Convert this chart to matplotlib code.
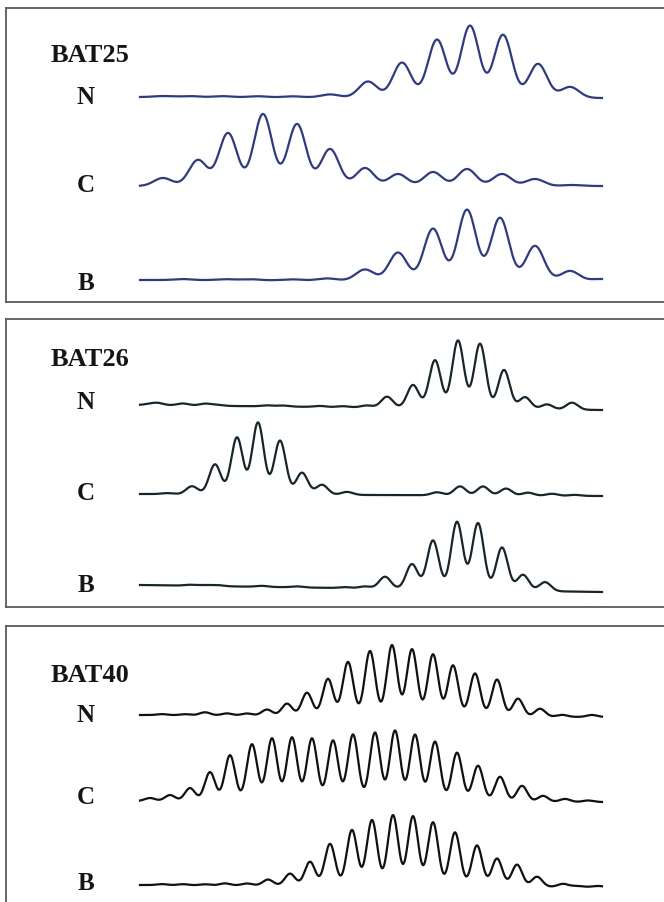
import numpy as np
import matplotlib
matplotlib.use("Agg")
import matplotlib.pyplot as plt

# peak positions / heights (position in trace units, height in signal units)
bat25_n_pos = [163, 190, 223, 258, 293, 330, 368, 402, 437, 470, 503, 538, 570]
bat25_n_h = [1, 1, 1, 1, 1, 3, 16, 35, 58, 72, 63, 34, 11]
bat25_c_pos = [163, 198, 228, 263, 297, 330, 365, 398, 433, 467, 502, 535, 572]
bat25_c_h = [8, 26, 53, 72, 62, 37, 18, 12, 14, 17, 12, 7, 1]
bat25_b_pos = [183, 225, 250, 292, 327, 365, 398, 433, 467, 500, 535, 570, 600]
bat25_b_h = [1, 1, 1, 1, 2, 11, 28, 52, 71, 63, 35, 10, 2]

bat26_n_pos = [150, 158, 183, 205, 217, 267, 283, 320, 343, 367, 387, 413, 435, 458, 480, 504, 525, 547, 572]
bat26_n_h = [1, 2, 2, 2, 1, 1, 1, 1, 1, 2, 11, 23, 48, 68, 65, 39, 12, 5, 7]
bat26_c_pos = [167, 192, 215, 237, 258, 280, 302, 322, 347, 437, 460, 483, 506, 528, 552, 575]
bat26_c_h = [1, 8, 30, 57, 72, 54, 22, 10, 3, 3, 9, 9, 7, 3, 2, 1]
bat26_b_pos = [190, 205, 218, 262, 297, 345, 365, 385, 412, 433, 457, 478, 502, 523, 545]
bat26_b_h = [1, 1, 1, 1, 1, 1, 2, 12, 25, 49, 68, 67, 43, 16, 9]

bat40_n_pos = [162, 185, 205, 227, 247, 267, 287, 307, 328, 348, 370, 392, 412, 433, 453,
               475, 497, 518, 540, 562, 592]
bat40_n_h = [1, 1, 3, 2, 2, 6, 12, 23, 37, 54, 65, 71, 67, 62, 51, 43, 37, 18, 8, 2, 2]
bat40_c_pos = [150, 170, 190, 210, 230, 252, 272, 292, 312, 333, 353, 375, 395, 415, 435,
               457, 478, 500, 522, 543, 565, 588]
bat40_c_h = [3, 6, 13, 29, 46, 57, 63, 64, 63, 61, 67, 69, 71, 67, 60, 49, 36, 25, 16, 6, 3, 1.5]
bat40_b_pos = [162, 183, 205, 225, 247, 268, 290, 310, 330, 352, 372, 393, 413, 433, 455,
               477, 497, 517, 537, 563, 577, 598]
bat40_b_h = [1, 1, 1, 2, 2, 6, 12, 24, 42, 56, 66, 71, 70, 64, 54, 41, 28, 22, 10, 3, 1, 1]

markers = ["BAT25", "BAT26", "BAT40"]
samples = ["N", "C", "B"]
traces = [
    [(bat25_n_pos, bat25_n_h), (bat25_c_pos, bat25_c_h), (bat25_b_pos, bat25_b_h)],
    [(bat26_n_pos, bat26_n_h), (bat26_c_pos, bat26_c_h), (bat26_b_pos, bat26_b_h)],
    [(bat40_n_pos, bat40_n_h), (bat40_c_pos, bat40_c_h), (bat40_b_pos, bat40_b_h)],
]

# layout (pixel coords of the page)
panel_top = [8, 319, 626]
panel_bot = [302, 607, 915]
base_left = [[97, 186, 280], [405, 494, 585], [715, 801, 885]]
base_right = [[98, 186, 281], [410, 496, 592], [717, 802, 887]]
label_y = [[55, 98, 185, 283], [360, 402, 493, 585], [675, 716, 798, 884]]
widths = [9.0, 5.8, 5.2]
colors = ["#2d3a8c", "#16262c", "#111111"]

W, H = 664, 902
fig = plt.figure(figsize=(W / 100, H / 100), dpi=100)
x = np.linspace(140, 602, 1500)

for p in range(3):
    top, bot = panel_top[p], panel_bot[p]
    left, right = 6, 672
    ax = fig.add_axes([left / W, 1 - bot / H, (right - left) / W, (bot - top) / H])
    ax.set_xlim(left, right)
    ax.set_ylim(bot, top)
    ax.set_xticks([])
    ax.set_yticks([])
    for s in ax.spines.values():
        s.set_color("#5a5a5a")
        s.set_linewidth(1.3)

    for k in range(3):
        pos, h = traces[p][k]
        base = np.interp(x, [140, 602], [base_left[p][k], base_right[p][k]])
        sig = np.zeros_like(x)
        for c, a in zip(pos, h):
            sig += a * np.exp(-(x - c) ** 2 / (2 * widths[p] ** 2))
        ax.plot(x, base - sig, color=colors[p], lw=1.6, solid_joinstyle="round")

    ax.text(51, label_y[p][0], markers[p], ha="left", va="center",
            fontsize=19, fontweight="bold", family="Liberation Serif", color="#151515")
    for k in range(3):
        ax.text(86, label_y[p][k + 1], samples[k], ha="center", va="center",
                fontsize=18, fontweight="bold", family="Liberation Serif", color="#151515")

fig.savefig("out.png", dpi=100, facecolor="white")
